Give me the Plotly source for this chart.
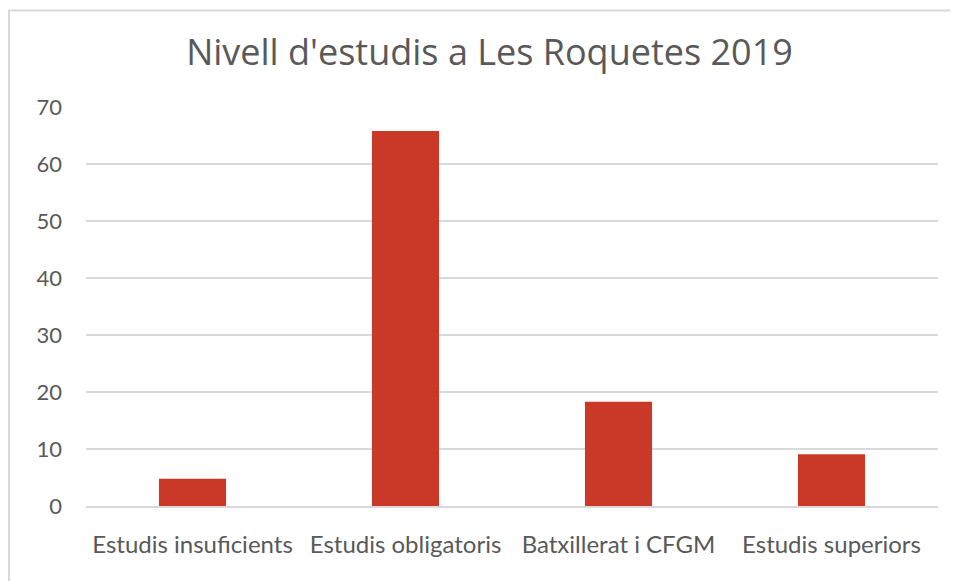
import plotly.graph_objects as go

categories = ["Estudis insuficients", "Estudis obligatoris", "Batxillerat i CFGM", "Estudis superiors"]
values = [4.8, 65.8, 18.3, 9.1]
y_ticks = [0, 10, 20, 30, 40, 50, 60, 70]

text_col = "#595959"
grid_col = "#D9D9D9"

fig = go.Figure()
fig.add_trace(go.Bar(x=categories, y=values, marker=dict(color="#CA3828", line=dict(width=0))))

# outer chart border, like the spreadsheet chart area
fig.add_shape(
    type="rect", xref="paper", yref="paper",
    x0=-0.0904, x1=1.05, y0=-0.3, y1=1.242,
    line=dict(color=grid_col, width=2), layer="below",
)

# page body has an 8px margin, so margins are offset by that
fig.update_layout(
    width=958,
    height=581,
    margin=dict(l=78, r=28, t=99, b=83, autoexpand=False),
    paper_bgcolor="white",
    plot_bgcolor="white",
    bargap=0.685,
    showlegend=False,
    title=dict(
        text="Nivell d'estudis a Les Roquetes 2019",
        x=0.4736, xanchor="center", xref="paper",
        y=1 - 44 / 581, yanchor="middle",
        font=dict(family="Open Sans", size=36, color=text_col),
    ),
    font=dict(family="Lato", size=22, color=text_col),
)
fig.update_yaxes(
    range=[0, 70], tickvals=y_ticks, showgrid=True, gridcolor=grid_col, gridwidth=1.5,
    zeroline=False, showline=False, ticks="", ticklabelstandoff=23,
    tickfont=dict(size=22, color=text_col),
)
fig.update_xaxes(
    showline=True, linecolor=grid_col, linewidth=1.5, ticks="", ticklabelstandoff=16,
    tickfont=dict(size=24, color=text_col),
)

fig.write_html("out.html")
